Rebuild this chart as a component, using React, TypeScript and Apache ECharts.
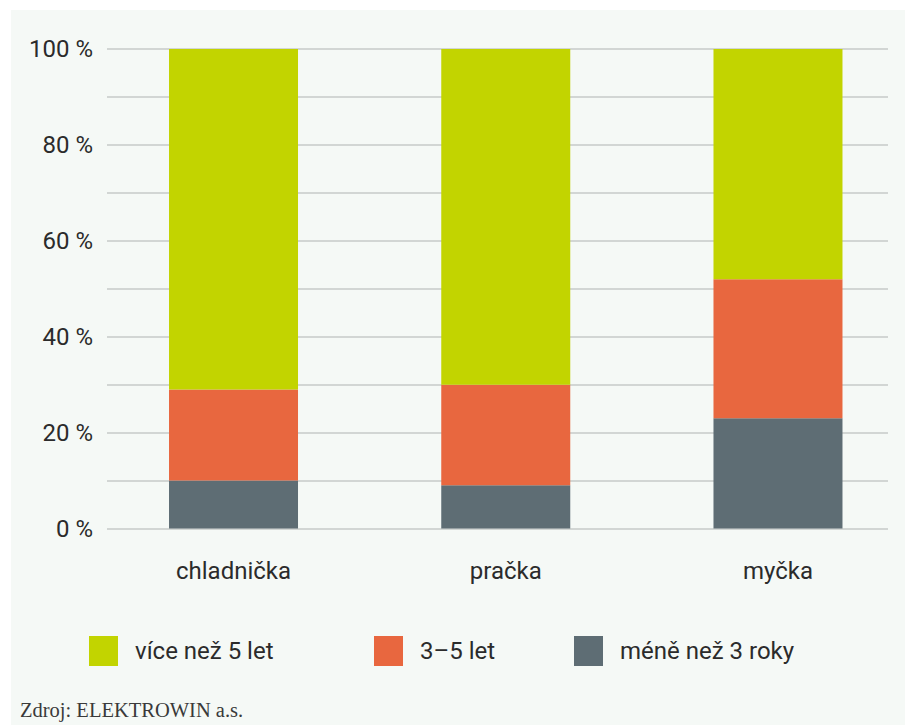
import React, { useEffect, useRef } from "react";
import * as echarts from "echarts";

const categories = ["chladnička", "pračka", "myčka"];
const seriesNames = ["méně než 3 roky", "3–5 let", "více než 5 let"];
const lessThan3 = [10, 9, 23];
const from3to5 = [19, 21, 29];
const moreThan5 = [71, 70, 48];
const yTicks = [0, 20, 40, 60, 80, 100];
const sourceText = "Zdroj: ELEKTROWIN a.s.";

const COLORS = ["#5e6d74", "#e8673f", "#c2d400"];
const FONT = "Roboto, 'Noto Sans', sans-serif";
const TEXT = "#2b2b2b";
const CANVAS_W = 940;

export default function App() {
  const ref = useRef<HTMLDivElement>(null);
  useEffect(() => {
    if (!ref.current) return;
    const chart = echarts.init(ref.current, undefined, { renderer: "svg" });
    const values = [lessThan3, from3to5, moreThan5];
    chart.setOption({
      animation: false,
      backgroundColor: "#ffffff",
      graphic: [
        {
          type: "rect",
          z: -10,
          silent: true,
          shape: { x: 11, y: 10, width: CANVAS_W - 11, height: 715 },
          style: { fill: "#f5f9f6" },
        },
        {
          type: "text",
          left: 20,
          top: 699,
          style: {
            text: sourceText,
            fill: "#3a3a3a",
            font: "20.5px 'Liberation Serif', 'DejaVu Serif', serif",
          },
        },
      ],
      grid: [
        { left: 107, width: 781, top: 49, bottom: 196.5 },
        { left: 97.4, width: 816.7, top: 49, bottom: 196.5 },
      ],
      xAxis: [
        { type: "value", gridIndex: 0, show: false, min: 0, max: 1 },
        {
          type: "category",
          gridIndex: 1,
          data: categories,
          axisLine: { show: false },
          axisTick: { show: false },
          axisLabel: {
            margin: 30,
            color: TEXT,
            fontSize: 24,
            fontFamily: FONT,
          },
        },
      ],
      yAxis: [
        {
          type: "value",
          gridIndex: 0,
          min: 0,
          max: 100,
          interval: 10,
          axisLine: { show: false },
          axisTick: { show: false },
          splitLine: { lineStyle: { color: "#c6cac8", width: 1.5 } },
          axisLabel: {
            margin: 14,
            color: TEXT,
            fontSize: 24,
            fontFamily: FONT,
            formatter: (v: number) => (yTicks.includes(v) ? `${v} %` : ""),
          },
        },
        {
          type: "value",
          gridIndex: 1,
          min: 0,
          max: 100,
          show: false,
        },
      ],
      legend: seriesNames.map((name, i) => ({
        data: [name],
        left: [569, 369, 84][i],
        top: 631,
        itemWidth: 29,
        itemHeight: 30,
        icon: "rect",
        textStyle: {
          color: TEXT,
          fontSize: 24,
          fontFamily: FONT,
          padding: [0, 0, 0, 12],
        },
      })),
      series: seriesNames.map((name, i) => ({
        name,
        type: "bar",
        stack: "total",
        xAxisIndex: 1,
        yAxisIndex: 1,
        barWidth: 129,
        data: values[i],
        itemStyle: { color: COLORS[i] },
        emphasis: { disabled: true },
      })),
    });
    return () => chart.dispose();
  }, []);
  return (
    <div
      style={{
        position: "absolute",
        left: 0,
        top: 0,
        width: 905,
        height: 725,
        overflow: "hidden",
      }}
    >
      <div ref={ref} style={{ width: CANVAS_W, height: 725 }} />
    </div>
  );
}
